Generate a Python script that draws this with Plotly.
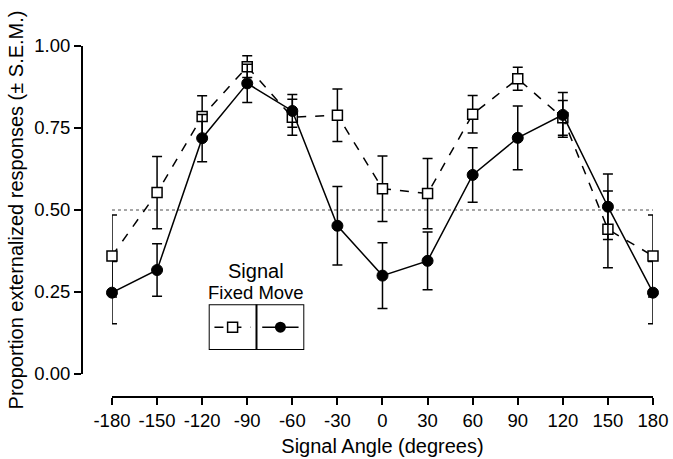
import plotly.graph_objects as go

angles = [-180, -150, -120, -90, -60, -30, 0, 30, 60, 90, 120, 150, 180]
fixed_mean = [0.36, 0.553, 0.785, 0.937, 0.783, 0.789, 0.565, 0.550, 0.792, 0.900, 0.781, 0.441, 0.36]
fixed_sem = [0.125, 0.11, 0.063, 0.033, 0.055, 0.08, 0.10, 0.107, 0.057, 0.035, 0.053, 0.117, 0.125]
move_mean = [0.248, 0.317, 0.719, 0.886, 0.802, 0.452, 0.300, 0.345, 0.607, 0.720, 0.790, 0.510, 0.248]
move_sem = [0.095, 0.08, 0.072, 0.058, 0.05, 0.12, 0.10, 0.088, 0.083, 0.097, 0.068, 0.10, 0.095]
chance = 0.5
x_ticks = [-180, -150, -120, -90, -60, -30, 0, 30, 60, 90, 120, 150, 180]
y_ticks = [0, 0.25, 0.5, 0.75, 1.0]
y_tick_text = ["0.00", "0.25", "0.50", "0.75", "1.00"]

FONT = "Liberation Sans"

fig = go.Figure()

# chance line
fig.add_trace(go.Scatter(x=[x_ticks[0], x_ticks[-1] + 2], y=[chance, chance], mode="lines",
                         line=dict(color="#888888", width=1.5, dash="dot"),
                         showlegend=False, hoverinfo="skip", cliponaxis=False))

fig.add_trace(go.Scatter(
    x=angles, y=fixed_mean, mode="lines+markers", name="Fixed",
    line=dict(color="black", width=1.5, dash="dash"),
    marker=dict(symbol="square", size=10, color="white", line=dict(color="black", width=1.5)),
    error_y=dict(type="data", array=fixed_sem, color="black", thickness=1.5, width=5),
    cliponaxis=False, showlegend=False))

fig.add_trace(go.Scatter(
    x=angles, y=move_mean, mode="lines+markers", name="Move",
    line=dict(color="black", width=1.5),
    marker=dict(symbol="circle", size=11, color="black", line=dict(color="black", width=1)),
    error_y=dict(type="data", array=move_sem, color="black", thickness=1.5, width=5),
    cliponaxis=False, showlegend=False))

# legend inset
fig.add_trace(go.Scatter(x=[0.12, 0.88], y=[0.5, 0.5], mode="lines", xaxis="x2", yaxis="y2",
                         line=dict(color="black", width=1.5, dash="dash"), showlegend=False, hoverinfo="skip"))
fig.add_trace(go.Scatter(x=[0.5], y=[0.5], mode="markers", xaxis="x2", yaxis="y2",
                         marker=dict(symbol="square", size=10, color="white", line=dict(color="black", width=1.5)),
                         showlegend=False, hoverinfo="skip"))
fig.add_trace(go.Scatter(x=[1.12, 1.88], y=[0.5, 0.5], mode="lines", xaxis="x2", yaxis="y2",
                         line=dict(color="black", width=1.5), showlegend=False, hoverinfo="skip"))
fig.add_trace(go.Scatter(x=[1.5], y=[0.5], mode="markers", xaxis="x2", yaxis="y2",
                         marker=dict(symbol="circle", size=11, color="black"),
                         showlegend=False, hoverinfo="skip"))

fig.add_shape(type="rect", xref="x2", yref="y2", x0=0, x1=2, y0=0, y1=1,
              line=dict(color="black", width=2))
fig.add_shape(type="line", xref="x2", yref="y2", x0=1, x1=1, y0=0, y1=1,
              line=dict(color="black", width=2))
fig.add_annotation(xref="x2", yref="y2", x=1, y=1, yshift=12, text="Fixed Move", showarrow=False,
                   yanchor="middle", font=dict(size=18.5, color="black", family=FONT))
fig.add_annotation(xref="x2", yref="y2", x=1, y=1, yshift=33, text="Signal", showarrow=False,
                   yanchor="middle", font=dict(size=20, color="black", family=FONT))

fig.update_layout(
    width=673, height=459,
    margin=dict(l=82, r=20, t=46, b=62),
    paper_bgcolor="white", plot_bgcolor="white",
    font=dict(family=FONT, color="black", size=18),
    xaxis=dict(domain=[0.0525, 1.0], range=[-180, 180], anchor="free", position=0,
               tickvals=x_ticks, ticktext=[str(v) for v in x_ticks], automargin=False,
               ticklabeloverflow="allow",
               showline=True, linecolor="black", linewidth=2, ticks="outside", ticklen=7,
               tickwidth=2, tickcolor="black", showgrid=False, zeroline=False,
               tickfont=dict(size=18.5),
               title=dict(text="Signal Angle (degrees)", font=dict(size=20), standoff=8)),
    yaxis=dict(domain=[0.0655, 1.0], range=[0, 1], anchor="free", position=0,
               tickvals=y_ticks, ticktext=y_tick_text, automargin=False,
               ticklabeloverflow="allow",
               showline=True, linecolor="black", linewidth=2, ticks="outside", ticklen=7,
               tickwidth=2, tickcolor="black", showgrid=False, zeroline=False,
               tickfont=dict(size=18.5),
               title=dict(text="Proportion externalized responses (± S.E.M.)", font=dict(size=20), standoff=4)),
    xaxis2=dict(domain=[0.2219, 0.3893], range=[0, 2], anchor="y2", visible=False),
    yaxis2=dict(domain=[0.1339, 0.2641], range=[0, 1], anchor="x2", visible=False),
)

fig.write_html("out.html", config={"displayModeBar": False},
               post_script="document.body.style.margin='0';document.body.style.overflow='hidden';")
